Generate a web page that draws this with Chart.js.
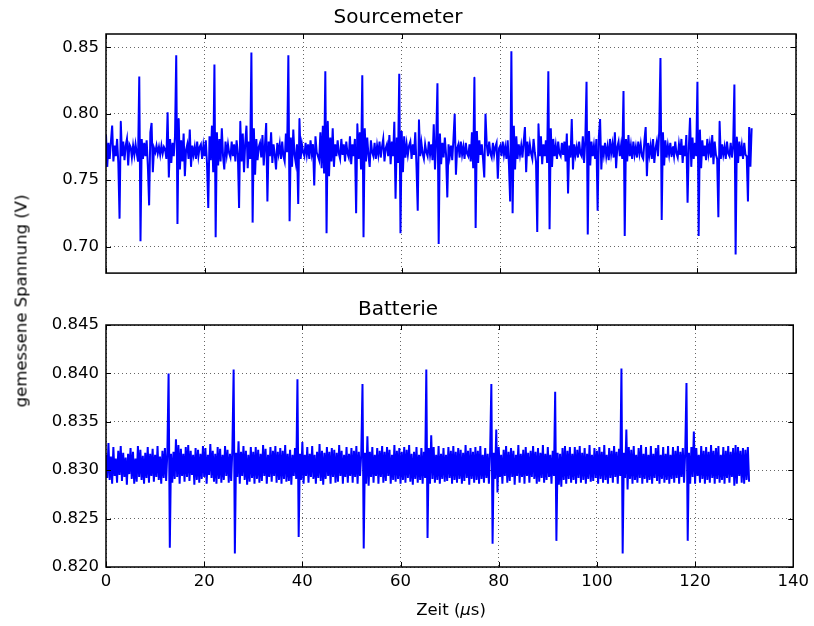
<!doctype html>
<html lang="de">
<head>
  <meta charset="utf-8">
  <title>Sourcemeter / Batterie</title>
  <style>
    * {
      margin: 0;
      padding: 0;
    }

    body {
      width: 814px;
      height: 626px;
      background: #fff;
      position: relative;
      overflow: hidden;
      font-family: 'DejaVu Sans', sans-serif;
    }

    .topBox {
      position: absolute;
      left: 0;
      top: 0;
    }

    .bottomBox {
      position: absolute;
      left: 0;
      top: 290px;
    }

    .yLabel {
      position: absolute;
      left: 21px;
      top: 301px;
      transform: translate(-50%, -50%) rotate(-90deg);
      white-space: nowrap;
      font-size: 16.5px;
      color: #000;
    }

    .xLabel {
      position: absolute;
      left: 451px;
      top: 609px;
      transform: translate(-50%, -50%);
      white-space: nowrap;
      font-size: 16.5px;
      color: #000;
    }
  </style>
</head>

<body>
  <div class="topBox"><canvas id="sourceChart" width="814" height="290"></canvas></div>
  <div class="bottomBox"><canvas id="batteryChart" width="814" height="336"></canvas></div>
  <div class="yLabel">gemessene Spannung (V)</div>
  <div class="xLabel">Zeit (<i>μ</i>s)</div>

  <script src="https://cdn.jsdelivr.net/npm/chart.js"></script>
  <script>
    // data
    const sampleStep = 0.25; // µs between samples
    const timeTicks = [0, 20, 40, 60, 80, 100, 120, 140];
    const sourceTicks = [0.70, 0.75, 0.80, 0.85];
    const batteryTicks = [0.820, 0.825, 0.830, 0.835, 0.840, 0.845];

    // Sourcemeter, mV
    const sourcemeterMilliVolt = [
      784, 760, 778, 766, 779, 791, 764, 776, 768, 781, 763, 721, 794, 768, 779, 765, 776, 781, 761, 777,
      775, 767, 776, 769, 777, 770, 764, 828, 704, 781, 766, 778, 768, 780, 760, 731, 786, 793, 756, 774,
      771, 776, 770, 775, 769, 776, 770, 775, 773, 766, 801, 752, 781, 763, 778, 768, 783, 844, 717, 796,
      758, 780, 764, 785, 753, 773, 777, 766, 788, 760, 776, 769, 775, 766, 779, 768, 775, 777, 766, 776,
      768, 780, 762, 729, 783, 765, 791, 756, 837, 707, 786, 761, 781, 764, 789, 768, 758, 779, 769, 777,
      770, 767, 779, 768, 777, 764, 780, 770, 729, 794, 764, 785, 756, 778, 791, 759, 779, 766, 846, 718,
      789, 754, 781, 765, 775, 778, 767, 784, 761, 776, 793, 734, 779, 768, 786, 763, 777, 769, 758, 778,
      770, 777, 766, 779, 768, 764, 785, 771, 844, 719, 782, 760, 788, 769, 763, 777, 732, 796, 766, 777,
      771, 768, 778, 769, 777, 766, 780, 770, 777, 746, 783, 771, 768, 765, 786, 759, 791, 755, 832, 710,
      794, 753, 782, 764, 789, 760, 777, 768, 780, 770, 766, 781, 769, 777, 764, 779, 770, 767, 783, 762,
      777, 768, 781, 725, 792, 766, 786, 758, 829, 707, 789, 764, 782, 769, 760, 780, 771, 768, 778, 766,
      776, 769, 779, 767, 775, 781, 764, 774, 777, 768, 784, 762, 779, 768, 794, 736, 782, 763, 830, 710,
      787, 756, 783, 767, 777, 769, 776, 779, 766, 777, 769, 786, 760, 727, 795, 768, 778, 770, 766, 777,
      771, 768, 779, 769, 777, 765, 792, 758, 780, 823, 702, 785, 762, 778, 767, 782, 769, 737, 777, 768,
      776, 765, 781, 800, 754, 774, 777, 767, 779, 769, 775, 766, 778, 770, 768, 777, 764, 786, 759, 827,
      714, 787, 763, 780, 769, 777, 766, 752, 800, 777, 768, 779, 770, 767, 778, 769, 775, 778, 751, 774,
      776, 768, 779, 769, 775, 766, 780, 762, 734, 847, 725, 791, 758, 783, 766, 777, 769, 776, 767, 779,
      790, 756, 779, 768, 777, 770, 766, 781, 771, 764, 711, 792, 768, 783, 762, 777, 768, 780, 763, 832,
      713, 789, 760, 781, 768, 776, 766, 779, 770, 768, 778, 769, 779, 764, 785, 740, 776, 767, 796, 758,
      777, 769, 775, 767, 779, 770, 768, 783, 763, 780, 824, 709, 787, 761, 779, 768, 776, 766, 781, 727,
      783, 796, 758, 776, 769, 778, 768, 775, 765, 781, 770, 777, 767, 786, 759, 775, 779, 768, 776, 766,
      817, 708, 781, 764, 784, 768, 776, 766, 779, 769, 775, 767, 779, 770, 777, 768, 766, 780, 790, 753,
      778, 769, 776, 766, 781, 763, 774, 779, 768, 787, 842, 720, 786, 761, 780, 767, 776, 769, 778, 768,
      775, 768, 779, 770, 767, 777, 769, 781, 763, 776, 768, 784, 733, 774, 797, 760, 782, 766, 778, 768,
      824, 708, 788, 759, 780, 768, 776, 765, 781, 770, 777, 767, 784, 762, 779, 769, 766, 722, 794, 766,
      777, 769, 775, 766, 779, 770, 768, 778, 767, 776, 822, 694, 782, 763, 779, 768, 776, 766, 778, 769,
      768, 734, 790, 760, 789
    ];

    // Batterie, mV
    const batteryMilliVolt = [
      831.6, 829.2, 832.8, 829.0, 831.4, 828.6, 832.4, 829.4, 831.2, 828.7, 832.0, 829.5, 832.5, 828.9, 831.8, 829.3, 831.3, 828.5, 831.7, 829.6,
      832.3, 829.1, 831.9, 828.6, 831.2, 828.8, 832.5, 829.3, 832.1, 829.0, 831.5, 828.6, 831.8, 829.2, 832.4, 828.7, 831.7, 829.4, 832.2, 828.8,
      831.6, 829.3, 832.5, 829.0, 831.4, 828.6, 832.0, 829.2, 832.3, 828.9, 831.8, 840.0, 822.0, 831.7, 828.7, 831.9, 829.1, 833.2, 829.3, 832.6,
      828.6, 832.2, 829.4, 831.7, 828.8, 832.4, 829.3, 832.6, 828.9, 832.0, 829.5, 831.6, 828.5, 832.3, 829.0, 832.1, 828.7, 831.7, 829.1, 832.5,
      829.3, 832.3, 828.6, 831.6, 829.5, 832.7, 829.2, 832.0, 828.8, 831.7, 828.6, 832.4, 829.1, 832.2, 828.7, 831.6, 829.0, 832.5, 829.4, 832.1,
      828.7, 831.7, 828.9, 832.3, 840.4, 821.4, 831.8, 829.3, 833.0, 828.6, 831.9, 829.4, 832.5, 829.0, 832.0, 828.5, 831.6, 828.8, 832.4, 829.2,
      831.9, 828.6, 832.4, 829.1, 832.1, 828.7, 831.7, 828.9, 832.6, 829.4, 832.2, 828.6, 831.6, 829.3, 832.4, 828.8, 832.0, 829.4, 832.5, 828.7,
      831.9, 829.0, 832.3, 828.6, 832.0, 829.1, 832.6, 828.8, 831.7, 828.9, 832.1, 828.5, 831.6, 829.4, 832.3, 829.1, 839.4, 823.1, 831.7, 829.0,
      832.9, 828.6, 831.6, 829.4, 832.4, 828.7, 831.7, 829.3, 832.5, 829.1, 831.6, 828.6, 831.9, 829.2, 832.7, 828.9, 832.0, 828.5, 831.8, 829.1,
      832.4, 829.4, 831.9, 828.6, 832.3, 829.3, 832.1, 828.7, 831.8, 828.8, 832.6, 829.4, 832.0, 828.6, 831.6, 829.3, 832.4, 828.7, 831.7, 829.4,
      832.3, 828.7, 832.0, 829.3, 832.5, 828.6, 831.9, 829.4, 831.7, 838.9, 821.9, 831.8, 828.6, 833.5, 828.4, 831.9, 829.3, 832.4, 828.7, 831.6,
      829.4, 832.3, 828.6, 832.0, 829.3, 832.5, 828.7, 831.9, 828.9, 832.4, 829.4, 832.1, 828.6, 831.6, 829.0, 832.6, 828.8, 832.0, 829.1, 832.3,
      828.6, 831.9, 829.0, 832.4, 828.7, 832.1, 829.2, 832.6, 828.8, 831.7, 828.5, 831.9, 829.1, 832.4, 828.7, 831.6, 829.0, 832.3, 828.6, 831.9,
      829.2, 840.4, 823.0, 832.3, 828.6, 833.6, 829.1, 832.4, 828.7, 831.6, 829.0, 832.5, 828.6, 831.7, 829.1, 832.3, 828.8, 831.6, 828.9, 832.4,
      829.2, 832.0, 828.6, 832.5, 829.0, 831.9, 828.7, 832.3, 829.1, 832.1, 828.6, 831.8, 828.9, 832.6, 829.2, 832.0, 828.5, 832.3, 829.1, 831.9,
      828.7, 832.4, 829.0, 832.0, 828.6, 832.5, 829.1, 831.6, 828.7, 832.3, 829.2, 831.7, 828.6, 832.0, 838.9, 822.4, 831.8, 829.1, 834.2, 827.7,
      832.4, 829.3, 831.6, 828.6, 832.1, 829.4, 832.5, 828.7, 831.9, 828.9, 832.3, 829.3, 832.0, 828.5, 831.6, 829.4, 832.6, 828.7, 831.7, 829.3,
      832.1, 828.6, 832.4, 829.4, 831.8, 828.7, 832.0, 829.3, 832.5, 829.1, 831.9, 828.6, 832.3, 828.8, 831.8, 829.2, 832.6, 828.7, 831.7, 829.0,
      832.4, 829.3, 831.6, 828.6, 832.0, 829.4, 838.1, 822.7, 831.8, 828.5, 831.7, 828.3, 832.3, 829.0, 832.5, 828.6, 832.0, 829.1, 832.4, 828.7,
      831.7, 829.0, 832.4, 828.6, 832.1, 829.2, 832.5, 828.7, 831.8, 829.0, 832.3, 828.6, 831.7, 829.1, 832.6, 828.8, 831.6, 828.9, 832.3, 829.2,
      832.0, 828.6, 832.4, 829.1, 831.9, 828.7, 832.6, 829.0, 831.6, 828.6, 832.3, 829.2, 832.0, 828.7, 832.5, 829.3, 831.9, 828.6, 832.2, 829.4,
      840.5, 821.4, 831.8, 829.2, 834.2, 828.0, 832.4, 829.1, 832.1, 828.6, 832.5, 829.0, 831.6, 828.7, 832.3, 829.2, 832.6, 828.6, 831.7, 829.1,
      832.4, 828.7, 831.6, 829.0, 832.5, 828.6, 831.7, 829.2, 832.3, 828.9, 832.6, 828.6, 831.6, 829.1, 832.4, 828.7, 831.7, 829.0, 832.5, 828.6,
      831.6, 829.1, 832.4, 828.7, 832.0, 829.2, 832.5, 828.6, 831.9, 829.3, 832.3, 828.7, 832.0, 839.0, 822.7, 831.8, 828.6, 832.4, 829.3, 834.0,
      828.6, 832.3, 829.4, 831.6, 828.7, 832.5, 829.1, 832.0, 828.6, 832.4, 829.0, 831.9, 828.7, 832.6, 829.2, 832.0, 828.6, 832.3, 829.1, 832.5,
      828.7, 831.6, 829.0, 832.4, 828.6, 832.0, 829.2, 832.5, 828.7, 831.9, 829.3, 832.3, 828.4, 832.6, 828.6, 832.4, 829.4, 832.0, 828.7, 832.3,
      828.6, 832.1, 829.0, 832.4, 828.8
    ];

    // helpers
    function toPoints(values) {
      return values.map((mv, i) => ({ x: i * sampleStep, y: mv / 1000 }));
    }

    // black frame + inward tick marks like matplotlib
    const framePlugin = {
      id: 'frame',
      afterDraw(chart) {
        const { ctx, chartArea: a, scales } = chart;
        ctx.save();
        ctx.strokeStyle = '#000';
        ctx.lineWidth = 1;
        ctx.beginPath();
        scales.x.ticks.forEach(t => {
          const px = Math.round(scales.x.getPixelForValue(t.value)) + 0.5;
          ctx.moveTo(px, a.top); ctx.lineTo(px, a.top + 5);
          ctx.moveTo(px, a.bottom); ctx.lineTo(px, a.bottom - 5);
        });
        scales.y.ticks.forEach(t => {
          const py = Math.round(scales.y.getPixelForValue(t.value)) + 0.5;
          ctx.moveTo(a.left, py); ctx.lineTo(a.left + 5, py);
          ctx.moveTo(a.right, py); ctx.lineTo(a.right - 5, py);
        });
        ctx.stroke();
        ctx.lineWidth = 1.5;
        ctx.strokeRect(a.left, a.top, a.right - a.left, a.bottom - a.top);
        ctx.restore();
      }
    };

    Chart.defaults.font.family = "'DejaVu Sans', sans-serif";
    Chart.defaults.color = '#000';

    function makeChart(canvasId, values, title, yMin, yMax, yTicks, decimals, showTime, titlePad) {
      return new Chart(document.getElementById(canvasId), {
        type: 'line',
        data: {
          datasets: [{
            data: toPoints(values),
            borderColor: '#0000ff',
            borderWidth: 2,
            pointRadius: 0,
            // tiny tension keeps chart.js off its pixel-merging fast path
            tension: 0.001
          }]
        },
        options: {
          responsive: false,
          animation: false,
          events: [],
          layout: { padding: { left: 0, right: 18, top: 0, bottom: 0 } },
          plugins: {
            legend: { display: false },
            tooltip: { enabled: false },
            title: {
              display: true,
              text: title,
              color: '#000',
              font: { size: 20, weight: 'normal' },
              padding: titlePad
            }
          },
          scales: {
            x: {
              type: 'linear',
              min: 0,
              max: 140,
              afterBuildTicks: s => { s.ticks = timeTicks.map(v => ({ value: v })); },
              afterFit: s => { s.height = showTime ? 59 : 14; },
              ticks: { display: showTime, padding: 5, font: { size: 16.5 }, color: '#000' },
              grid: { color: 'rgba(0,0,0,0.6)', lineWidth: 1, drawTicks: false },
              border: { display: false, dash: [1, 3] }
            },
            y: {
              min: yMin,
              max: yMax,
              afterBuildTicks: s => { s.ticks = yTicks.map(v => ({ value: v })); },
              afterFit: s => { s.width = 106; },
              ticks: {
                padding: 7,
                font: { size: 16.5 },
                color: '#000',
                callback: v => Number(v).toFixed(decimals)
              },
              grid: { color: 'rgba(0,0,0,0.6)', lineWidth: 1, drawTicks: false },
              border: { display: false, dash: [1, 3] }
            }
          }
        },
        plugins: [framePlugin]
      });
    }

    const sourceChart = makeChart('sourceChart', sourcemeterMilliVolt, 'Sourcemeter',
      0.68, 0.86, sourceTicks, 2, false, { top: 6, bottom: 4 });
    const batteryChart = makeChart('batteryChart', batteryMilliVolt, 'Batterie',
      0.820, 0.845, batteryTicks, 3, true, { top: 8, bottom: 3 });
  </script>
</body>
</html>
